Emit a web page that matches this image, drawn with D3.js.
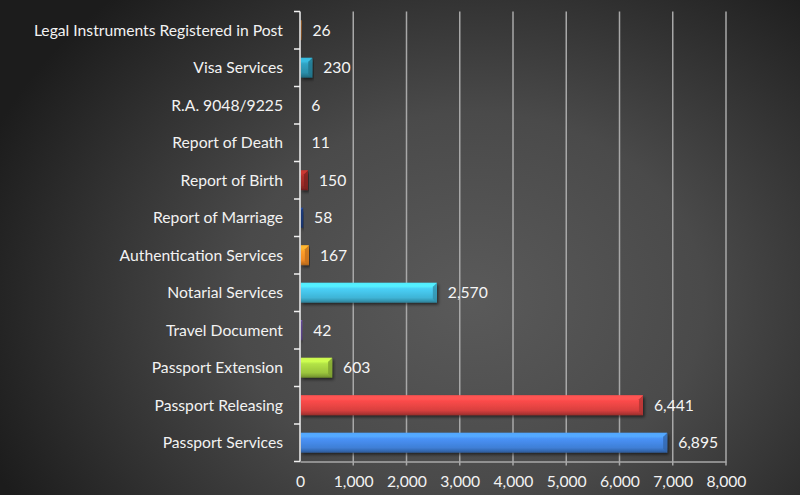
<!DOCTYPE html>
<html>
<head>
<meta charset="utf-8">
<script src="https://cdn.jsdelivr.net/npm/d3@7"></script>
<style>
html,body{margin:0;padding:0;background:#222;}
svg{display:block;}
text{font-family:Lato,"Open Sans",sans-serif;}
</style>
</head>
<body>
<svg id="chart" width="800" height="495"></svg>
<script>
const categories = ["Passport Services","Passport Releasing","Passport Extension","Travel Document","Notarial Services","Authentication Services","Report of Marriage","Report of Birth","Report of Death","R.A. 9048/9225","Visa Services","Legal Instruments Registered in Post"];
const values = [6895, 6441, 603, 42, 2570, 167, 58, 150, 11, 6, 230, 26];
const barColors = ["#3f7fd6","#d9403f","#9bc53d","#6a4fa0","#3fb4d6","#f08a24","#1f3f86","#9a2a26","#6f8a38","#5c4678","#2a8eaa","#c86f20"];
const xTicks = [0,1000,2000,3000,4000,5000,6000,7000,8000];

(function(){
const svg = d3.select("#chart");
const W = 800, H = 495;
const pLeft = 300, pRight = 726, pTop = 11.5, pBottom = 461.5;
const fs = 15.7;

const defs = svg.append("defs");
const bg = defs.append("radialGradient").attr("id","bg")
  .attr("gradientUnits","userSpaceOnUse").attr("cx",470).attr("cy",300).attr("r",520)
  .attr("gradientTransform","translate(470,300) scale(1,0.8) translate(-470,-300)");
bg.append("stop").attr("offset","0%").attr("stop-color","#5a5a5a");
bg.append("stop").attr("offset","45%").attr("stop-color","#4a4a4a");
bg.append("stop").attr("offset","100%").attr("stop-color","#1c1c1c");
svg.append("rect").attr("width",W).attr("height",H).attr("fill","url(#bg)");

const shadow = defs.append("filter").attr("id","sh").attr("x","-10%").attr("y","-30%").attr("width","120%").attr("height","170%");
shadow.append("feDropShadow").attr("dx",1.5).attr("dy",2).attr("stdDeviation",1.5).attr("flood-color","#000").attr("flood-opacity",0.55);

const x = d3.scaleLinear().domain([0, 8000]).range([pLeft, pRight]);
const y = d3.scaleBand().domain(categories).range([pBottom, pTop]).paddingInner(0.47).paddingOuter(0.235);

// gridlines
svg.append("g").selectAll("line").data(xTicks.slice(1)).join("line")
  .attr("x1", d => x(d)).attr("x2", d => x(d))
  .attr("y1", pTop).attr("y2", pBottom + 4)
  .attr("stroke", "#a8a8a8").attr("stroke-width", 1.5);

// x axis
const xAxis = d3.axisBottom(x).tickValues(xTicks).tickFormat(d3.format(",")).tickSize(0).tickPadding(14);
const gx = svg.append("g").attr("transform", `translate(0,${pBottom})`).call(xAxis);
gx.select(".domain").attr("stroke","#a8a8a8").attr("stroke-width",1.5);
gx.selectAll("text").attr("fill","#f2f2f2").attr("font-size",fs).attr("font-family","Lato, 'Open Sans', sans-serif");

// bar gradients
categories.forEach((c, i) => {
  const base = d3.color(barColors[i]);
  const g = defs.append("linearGradient").attr("id","g"+i).attr("x1",0).attr("y1",0).attr("x2",0).attr("y2",1);
  g.append("stop").attr("offset","0%").attr("stop-color", base.brighter(0.5));
  g.append("stop").attr("offset","18%").attr("stop-color", base.brighter(0.8));
  g.append("stop").attr("offset","30%").attr("stop-color", base.brighter(0.4));
  g.append("stop").attr("offset","75%").attr("stop-color", base);
  g.append("stop").attr("offset","90%").attr("stop-color", base.darker(0.5));
  g.append("stop").attr("offset","100%").attr("stop-color", base.darker(1.0));
});

const step = y.bandwidth();
const bars = svg.append("g");
bars.selectAll("rect.bar").data(categories).join("rect")
  .attr("class","bar")
  .attr("x", pLeft + 0.75)
  .attr("y", d => y(d))
  .attr("width", (d,i) => Math.max(0, x(values[i]) - pLeft - 0.75))
  .attr("height", step)
  .attr("fill", (d,i) => `url(#g${i})`)
  .attr("filter","url(#sh)");
bars.selectAll("path.bevel").data(categories).join("path")
  .attr("class","bevel")
  .attr("d", (d,i) => {
    const xe = x(values[i]), y0 = y(d), b = Math.min(4, Math.max(0, xe - pLeft - 1));
    return `M${xe-b},${y0+b} L${xe},${y0} L${xe},${y0+step} L${xe-b},${y0+step-b} Z`;
  })
  .attr("fill", (d,i) => d3.color(barColors[i]).darker(0.6))
  .attr("opacity", 0.8);
bars.selectAll("path.bevtop").data(categories).join("path")
  .attr("class","bevtop")
  .attr("d", (d,i) => {
    const xe = x(values[i]), y0 = y(d), b = Math.min(3, Math.max(0, xe - pLeft - 1));
    return `M${pLeft+1},${y0} L${xe},${y0} L${xe-b},${y0+b} L${pLeft+1},${y0+b} Z`;
  })
  .attr("fill", (d,i) => d3.color(barColors[i]).brighter(0.9))
  .attr("opacity", 0.6);

// value labels
svg.append("g").selectAll("text").data(categories).join("text")
  .attr("x", (d,i) => x(values[i]) + 11)
  .attr("y", d => y(d) + step/2)
  .attr("dy","0.35em")
  .attr("fill","#f5f5f5").attr("font-size",fs)
  .text((d,i) => d3.format(",")(values[i]));

// y axis
svg.append("line").attr("x1",pLeft).attr("x2",pLeft).attr("y1",pTop).attr("y2",pBottom)
  .attr("stroke","#f0f0f0").attr("stroke-width",1.5);
const boundaries = d3.range(categories.length + 1).map(k => pBottom - k * (pBottom - pTop) / categories.length);
svg.append("g").selectAll("line").data(boundaries).join("line")
  .attr("x1", pLeft - 6).attr("x2", pLeft).attr("y1", d => d).attr("y2", d => d)
  .attr("stroke","#f0f0f0").attr("stroke-width",1.5);

svg.append("g").selectAll("text").data(categories).join("text")
  .attr("x", 283)
  .attr("y", d => y(d) + step/2)
  .attr("dy","0.35em")
  .attr("text-anchor","end")
  .attr("fill","#f2f2f2").attr("font-size",fs)
  .text(d => d);
})();
</script>
</body>
</html>
